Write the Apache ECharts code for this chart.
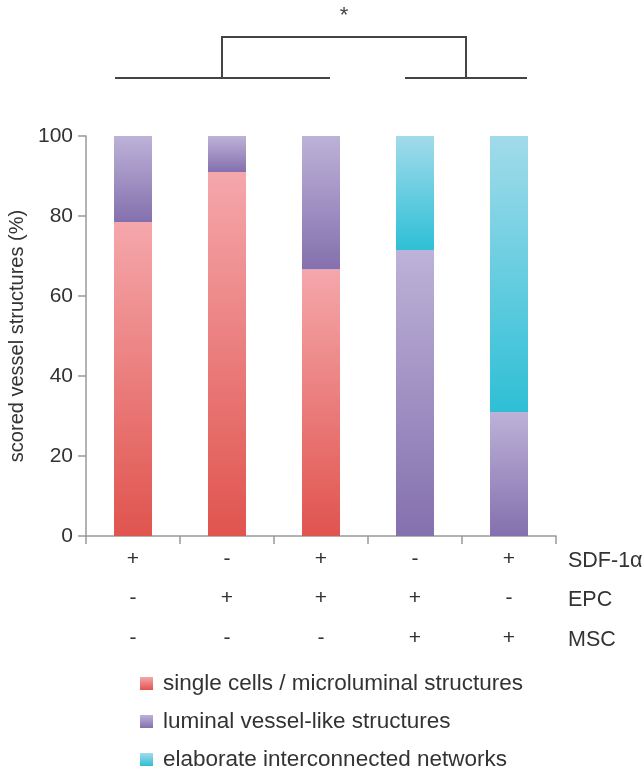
<!DOCTYPE html>
<html>
<head>
<meta charset="utf-8">
<script src="https://cdn.jsdelivr.net/npm/echarts@6/dist/echarts.min.js"></script>
<style>
  html, body { margin: 0; padding: 0; background: #fff; }
  #chart { width: 642px; height: 770px; }
</style>
</head>
<body>
<div id="chart"></div>
<script>
// treatment groups: [SDF-1α, EPC, MSC]
var groups = [
  ['+', '-', '-'],
  ['-', '+', '-'],
  ['+', '+', '-'],
  ['-', '+', '+'],
  ['+', '-', '+']
];
var rowNames = ['SDF-1α', 'EPC', 'MSC'];
var seriesNames = [
  'single cells / microluminal structures',
  'luminal vessel-like structures',
  'elaborate interconnected networks'
];
var singleCells = [78.5, 91, 66.7, 0, 0];
var luminal = [21.5, 9, 33.3, 71.5, 31];
var networks = [0, 0, 0, 28.5, 69];
var yTicks = [0, 20, 40, 60, 80, 100];

var font = 'Liberation Sans, Arial, sans-serif';

function grad(top, bottom) {
  return new echarts.graphic.LinearGradient(0, 0, 0, 1, [
    { offset: 0, color: top },
    { offset: 1, color: bottom }
  ]);
}

var colors = [
  grad('#f5a7ab', '#e0544e'),
  grad('#bdb2d8', '#8470ae'),
  grad('#a2dbea', '#2ebfd6')
];

var categories = groups.map(function (g) { return g.join('\n'); });
var values = [singleCells, luminal, networks];

var series = values.map(function (v, i) {
  return {
    name: seriesNames[i],
    type: 'bar',
    stack: 'total',
    barWidth: 38,
    data: v,
    itemStyle: { color: colors[i] }
  };
});

var chart = echarts.init(document.getElementById('chart'), null, { renderer: 'canvas' });

chart.setOption({
  backgroundColor: '#fff',
  animation: false,
  grid: { left: 86, right: 86, top: 136, bottom: 234, outerBoundsMode: 'none', containLabel: false },
  legend: {
    orient: 'vertical',
    left: 140,
    top: 672,
    height: 140,
    padding: 0,
    itemWidth: 13,
    itemHeight: 13,
    itemGap: 15,
    icon: 'rect',
    selectedMode: false,
    textStyle: { fontFamily: font, fontSize: 22.5, lineHeight: 22, color: '#333', padding: [0, 0, 0, 5] },
    data: seriesNames
  },
  xAxis: {
    type: 'category',
    data: categories,
    axisLine: { lineStyle: { color: '#999', width: 1.5 } },
    axisTick: { show: true, length: 8, lineStyle: { color: '#999', width: 1.5 } },
    axisLabel: {
      margin: 3,
      fontFamily: font,
      fontSize: 21,
      lineHeight: 39.5,
      color: '#333',
      verticalAlign: 'top'
    },
    name: rowNames.join('\n'),
    nameLocation: 'end',
    nameGap: 12,
    nameTextStyle: {
      fontFamily: font,
      fontSize: 21.5,
      lineHeight: 39.5,
      color: '#333',
      align: 'left',
      verticalAlign: 'top',
      padding: [5, 0, 0, 0]
    }
  },
  yAxis: {
    type: 'value',
    min: 0,
    max: 100,
    interval: 20,
    name: 'scored vessel structures (%)',
    nameLocation: 'middle',
    nameGap: 54,
    nameTextStyle: { fontFamily: font, fontSize: 20, color: '#333' },
    axisLine: { show: true, lineStyle: { color: '#999', width: 1.5 } },
    axisTick: { show: true, length: 8, lineStyle: { color: '#999', width: 1.5 } },
    splitLine: { show: false },
    axisLabel: {
      margin: 13,
      fontFamily: font,
      fontSize: 21,
      color: '#333',
      formatter: function (v) { return yTicks.indexOf(v) >= 0 ? String(v) : ''; }
    }
  },
  graphic: [
    { type: 'line', shape: { x1: 115, y1: 78, x2: 330, y2: 78 }, style: { stroke: '#444', lineWidth: 2 } },
    { type: 'line', shape: { x1: 405, y1: 78, x2: 527, y2: 78 }, style: { stroke: '#444', lineWidth: 2 } },
    { type: 'polyline', shape: { points: [[222, 78], [222, 37], [466, 37], [466, 78]] }, style: { stroke: '#444', lineWidth: 2, fill: null } },
    { type: 'text', x: 344, y: 16, style: { text: '*', font: '22px ' + font, fill: '#444', align: 'center', verticalAlign: 'middle' } }
  ],
  series: series
});
</script>
</body>
</html>
